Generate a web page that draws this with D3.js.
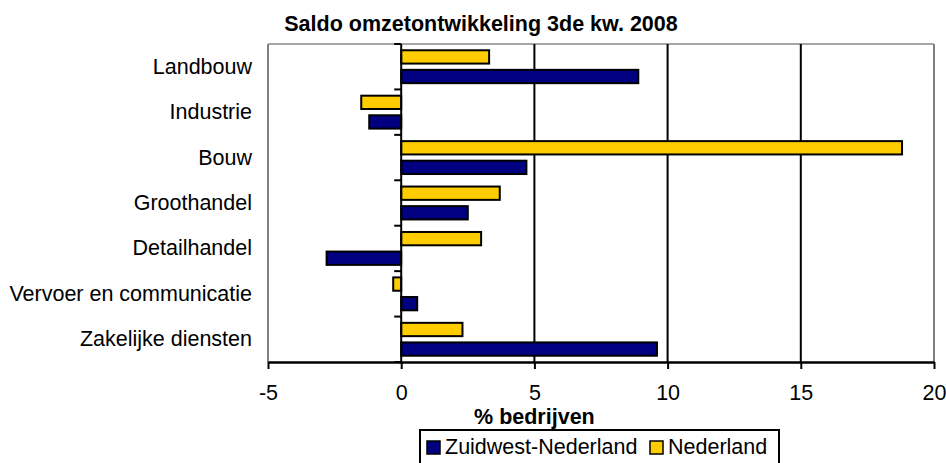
<!DOCTYPE html>
<html>
<head>
<meta charset="utf-8">
<script src="https://cdn.jsdelivr.net/npm/d3@7"></script>
<style>
  body { margin: 0; background: #fff; }
  text { font-family: "Liberation Sans", Arial, sans-serif; fill: #000; }
</style>
</head>
<body>
<div id="chart"></div>
<script>
const CATEGORIES = ["Landbouw", "Industrie", "Bouw", "Groothandel", "Detailhandel", "Vervoer en communicatie", "Zakelijke diensten"];
const ZUIDWEST = [8.9, -1.2, 4.7, 2.5, -2.8, 0.6, 9.6];
const NEDERLAND = [3.3, -1.5, 18.8, 3.7, 3.0, -0.3, 2.3];
const X_TICKS = [-5, 0, 5, 10, 15, 20];
const SERIES = [
  { name: "Nederland", values: NEDERLAND, color: "#ffcc00" },
  { name: "Zuidwest-Nederland", values: ZUIDWEST, color: "#000080" }
];
const LEGEND_ORDER = ["Zuidwest-Nederland", "Nederland"];

const WIDTH = 946;
const HEIGHT = 463;
const PLOT = { left: 268, right: 934, top: 44, bottom: 362 };
const FONT = 21.5;

const svg = d3.select("#chart").append("svg")
  .attr("width", WIDTH)
  .attr("height", HEIGHT);

const x = d3.scaleLinear().domain([-5, 20]).range([PLOT.left, PLOT.right]);
const y = d3.scaleBand().domain(CATEGORIES).range([PLOT.top, PLOT.bottom]).paddingInner(0).paddingOuter(0);
const inner = d3.scaleBand().domain(SERIES.map(s => s.name)).range([0, y.bandwidth()]).padding(0.32);

// title
svg.append("text")
  .attr("x", 481)
  .attr("y", 31)
  .attr("text-anchor", "middle")
  .attr("font-weight", "bold")
  .attr("font-size", FONT + "px")
  .text("Saldo omzetontwikkeling 3de kw. 2008");

// plot frame (gray)
svg.append("line").attr("x1", PLOT.left).attr("x2", PLOT.right).attr("y1", PLOT.top).attr("y2", PLOT.top)
  .attr("stroke", "#a6a6a6").attr("stroke-width", 2);
svg.append("line").attr("x1", PLOT.left).attr("x2", PLOT.left).attr("y1", PLOT.top).attr("y2", PLOT.bottom)
  .attr("stroke", "#808080").attr("stroke-width", 2);
svg.append("line").attr("x1", PLOT.right).attr("x2", PLOT.right).attr("y1", PLOT.top).attr("y2", PLOT.bottom)
  .attr("stroke", "#808080").attr("stroke-width", 2);

// vertical gridlines
svg.append("g")
  .selectAll("line")
  .data(X_TICKS.filter(t => t > 0 && t < 20))
  .join("line")
  .attr("x1", d => x(d)).attr("x2", d => x(d))
  .attr("y1", PLOT.top).attr("y2", PLOT.bottom)
  .attr("stroke", "#000").attr("stroke-width", 2);

// bars
const group = svg.append("g")
  .selectAll("g")
  .data(CATEGORIES)
  .join("g")
  .attr("transform", d => `translate(0,${y(d)})`);

group.selectAll("rect")
  .data((d, i) => SERIES.map(s => ({ name: s.name, value: s.values[i], color: s.color })))
  .join("rect")
  .attr("x", d => x(Math.min(0, d.value)))
  .attr("y", d => inner(d.name))
  .attr("width", d => Math.abs(x(d.value) - x(0)))
  .attr("height", inner.bandwidth())
  .attr("fill", d => d.color)
  .attr("stroke", "#000")
  .attr("stroke-width", 2);

// zero axis with category ticks
const zero = svg.append("g").attr("transform", `translate(${x(0)},0)`);
zero.append("line").attr("y1", PLOT.top).attr("y2", PLOT.bottom).attr("stroke", "#000").attr("stroke-width", 2);
zero.selectAll("line.tick")
  .data(d3.range(CATEGORIES.length + 1))
  .join("line")
  .attr("class", "tick")
  .attr("x1", -7).attr("x2", 0)
  .attr("y1", i => PLOT.top + i * y.step()).attr("y2", i => PLOT.top + i * y.step())
  .attr("stroke", "#000").attr("stroke-width", 2);

// category labels
svg.append("g")
  .selectAll("text")
  .data(CATEGORIES)
  .join("text")
  .attr("x", 252)
  .attr("y", d => y(d) + y.bandwidth() / 2 + 7)
  .attr("text-anchor", "end")
  .attr("font-size", FONT + "px")
  .text(d => d);

// bottom axis
const xAxis = svg.append("g")
  .attr("transform", `translate(0,${PLOT.bottom})`)
  .call(d3.axisBottom(x).tickValues(X_TICKS).tickSize(7).tickSizeOuter(0).tickPadding(16).tickFormat(d3.format("d")));
xAxis.select(".domain").attr("stroke", "#000").attr("stroke-width", 2.5);
xAxis.selectAll(".tick line").attr("stroke", "#000").attr("stroke-width", 2);
xAxis.selectAll(".tick text")
  .attr("font-size", FONT + "px")
  .attr("font-family", "'Liberation Sans', Arial, sans-serif")
  .text(d => d < 0 ? "-" + Math.abs(d) : d);

svg.append("text")
  .attr("x", x(5))
  .attr("y", 424)
  .attr("text-anchor", "middle")
  .attr("font-size", FONT + "px")
  .attr("font-weight", "bold")
  .text("% bedrijven");

// legend
const legend = svg.append("g");
legend.append("rect")
  .attr("x", 420).attr("y", 430)
  .attr("width", 359).attr("height", 40)
  .attr("fill", "#fff").attr("stroke", "#000").attr("stroke-width", 2);
const LEGEND_POS = [427, 650];
const item = legend.selectAll("g")
  .data(LEGEND_ORDER)
  .join("g")
  .attr("transform", (d, i) => `translate(${LEGEND_POS[i]},441)`);
item.append("rect")
  .attr("width", 13).attr("height", 13)
  .attr("fill", d => SERIES.find(s => s.name === d).color)
  .attr("stroke", "#000").attr("stroke-width", 1.5);
item.append("text")
  .attr("x", 18).attr("y", 13)
  .attr("font-size", FONT + "px")
  .text(d => d);
</script>
</body>
</html>
